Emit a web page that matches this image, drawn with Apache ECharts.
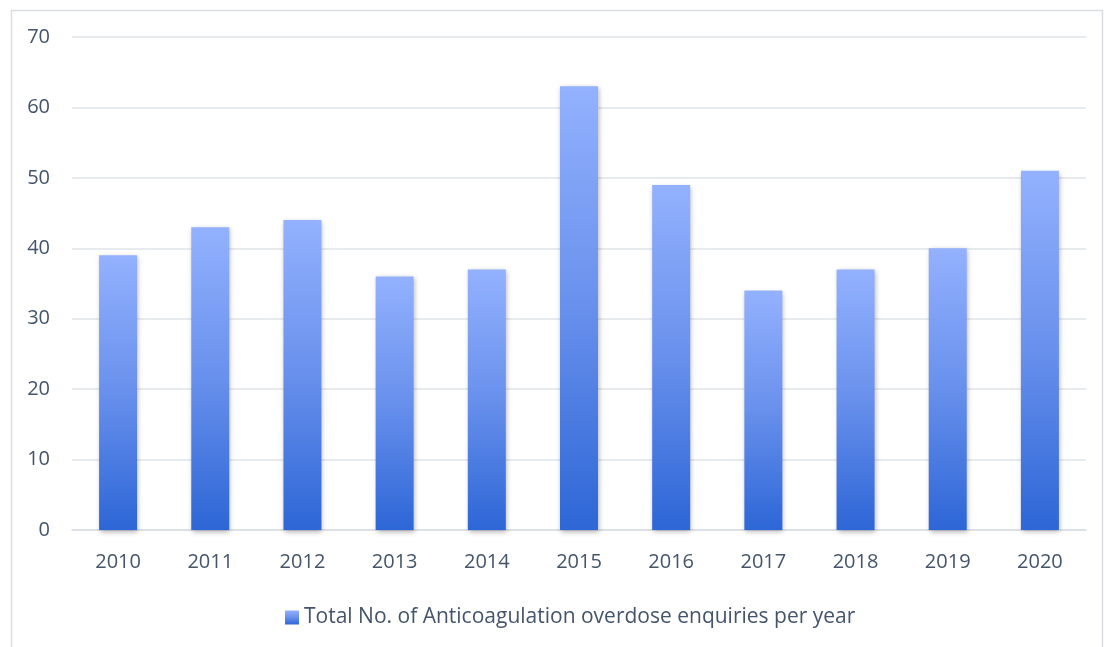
<!DOCTYPE html>
<html><head><meta charset="utf-8">
<script src="https://cdn.jsdelivr.net/npm/echarts@6/dist/echarts.min.js"></script>
<style>html,body{margin:0;padding:0;background:#fff}#c{width:1104px;height:647px}</style>
</head><body><div id="c"></div>
<script>
const categories = ['2010','2011','2012','2013','2014','2015','2016','2017','2018','2019','2020'];
const values = [39, 43, 44, 36, 37, 63, 49, 34, 37, 40, 51];
const seriesName = 'Total No. of Anticoagulation overdose enquiries per year';
const yTicks = {min: 0, max: 70, interval: 10};

const grad = new echarts.graphic.LinearGradient(0, 0, 0, 1, [
  {offset: 0, color: '#93b1fe'},
  {offset: 0.5, color: '#6890ec'},
  {offset: 1, color: '#2d66d6'}
]);
const chart = echarts.init(document.getElementById('c'));
chart.setOption({
  animation: false,
  backgroundColor: '#fff',
  textStyle: {fontFamily: 'Open Sans'},
  graphic: [{type: 'rect', left: 9, top: 8, shape: {width: 1091, height: 660}, style: {fill: 'none', stroke: '#d9dde3', lineWidth: 1.5}, silent: true}],
  grid: {left: 72, right: 18, top: 37, bottom: 117},
  legend: {
    top: 602, left: 280,
    itemWidth: 14, itemHeight: 14, itemGap: 4,
    textStyle: {fontSize: 21, color: '#44546a', fontFamily: 'Open Sans'},
    data: [{name: seriesName, icon: 'rect'}]
  },
  xAxis: {
    type: 'category', data: categories,
    axisLine: {lineStyle: {color: '#d9dde3', width: 1.5}},
    axisTick: {show: false},
    axisLabel: {fontSize: 20, color: '#44546a', margin: 22}
  },
  yAxis: {
    type: 'value', min: yTicks.min, max: yTicks.max, interval: yTicks.interval,
    axisLine: {show: false}, axisTick: {show: false},
    axisLabel: {fontSize: 20, color: '#44546a', margin: 22},
    splitLine: {lineStyle: {color: '#e1e4e9', width: 1.5}}
  },
  series: [{
    name: seriesName, type: 'bar', data: values, barWidth: 38,
    itemStyle: {color: grad, shadowBlur: 5, shadowColor: 'rgba(0,0,0,0.3)', shadowOffsetX: 1, shadowOffsetY: 2}
  }]
});
</script></body></html>
